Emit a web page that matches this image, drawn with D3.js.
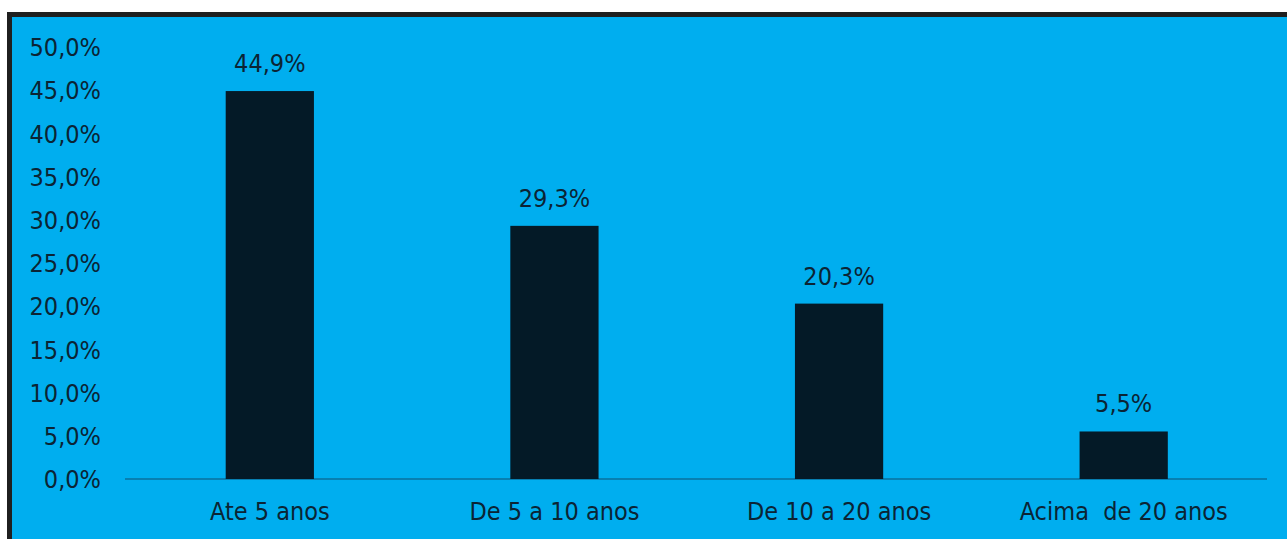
<!DOCTYPE html>
<html><head><meta charset="utf-8">
<script src="https://cdn.jsdelivr.net/npm/d3@7"></script>
<style>
html,body{margin:0;padding:0;background:#fff;}
svg{display:block;}
text{font-family:"DejaVu Sans Condensed","DejaVu Sans",sans-serif;fill:#0b2434;}
</style></head>
<body>
<svg id="chart" width="1287" height="539"></svg>
<script>
const categories = ["Ate 5 anos", "De 5 a 10 anos", "De 10 a 20 anos", "Acima  de 20 anos"];
const values = [44.9, 29.3, 20.3, 5.5];
const valueLabels = ["44,9%", "29,3%", "20,3%", "5,5%"];
const yTicks = [0, 5, 10, 15, 20, 25, 30, 35, 40, 45, 50];

const svg = d3.select("#chart");
const W = 1287, H = 539;
const FS = 25;

// frame
svg.append("rect").attr("x", 7).attr("y", 12).attr("width", W - 7).attr("height", H - 12).attr("fill", "#1f1f1f");
svg.append("rect").attr("x", 12).attr("y", 17).attr("width", W - 12).attr("height", H - 17).attr("fill", "#00aeef");

const x = d3.scaleBand().domain(categories).range([127.5, 1266]).paddingInner(0.69).paddingOuter(0.345);
const y = d3.scaleLinear().domain([0, 50]).range([479, 47]);

// baseline
svg.append("line").attr("x1", 125).attr("x2", 1267).attr("y1", y(0)).attr("y2", y(0))
  .attr("stroke", "#0a6f9c").attr("stroke-width", 1.5);

// y axis
const yAxis = d3.axisLeft(y).tickValues(yTicks).tickSize(0).tickPadding(0)
  .tickFormat(d => d3.format(".1f")(d).replace(".", ",") + "%");
const gy = svg.append("g").attr("transform", "translate(101,0)").call(yAxis);
gy.select(".domain").remove();
gy.selectAll("text").attr("font-size", FS).attr("dy", "0.35em")
  .style("font-family", '"DejaVu Sans Condensed","DejaVu Sans",sans-serif').attr("fill", "#0b2434");

// bars
svg.selectAll("rect.bar").data(values).enter().append("rect").attr("class", "bar")
  .attr("x", (d, i) => x(categories[i])).attr("width", x.bandwidth())
  .attr("y", d => y(d)).attr("height", d => y(0) - y(d)).attr("fill", "#041a27");

// value labels
svg.selectAll("text.val").data(values).enter().append("text").attr("class", "val")
  .attr("x", (d, i) => x(categories[i]) + x.bandwidth() / 2).attr("y", d => y(d) - 19)
  .attr("text-anchor", "middle").attr("font-size", FS).text((d, i) => valueLabels[i]);

// x axis
const xAxis = d3.axisBottom(x).tickSize(0).tickPadding(0);
const gx = svg.append("g").attr("transform", `translate(0,${y(0) + 32})`).call(xAxis);
gx.select(".domain").remove();
gx.selectAll("text").attr("font-size", FS).attr("dy", "0.35em").attr("y", 0)
  .style("font-family", '"DejaVu Sans Condensed","DejaVu Sans",sans-serif').attr("fill", "#0b2434")
  .style("white-space", "pre");
</script>
</body></html>
